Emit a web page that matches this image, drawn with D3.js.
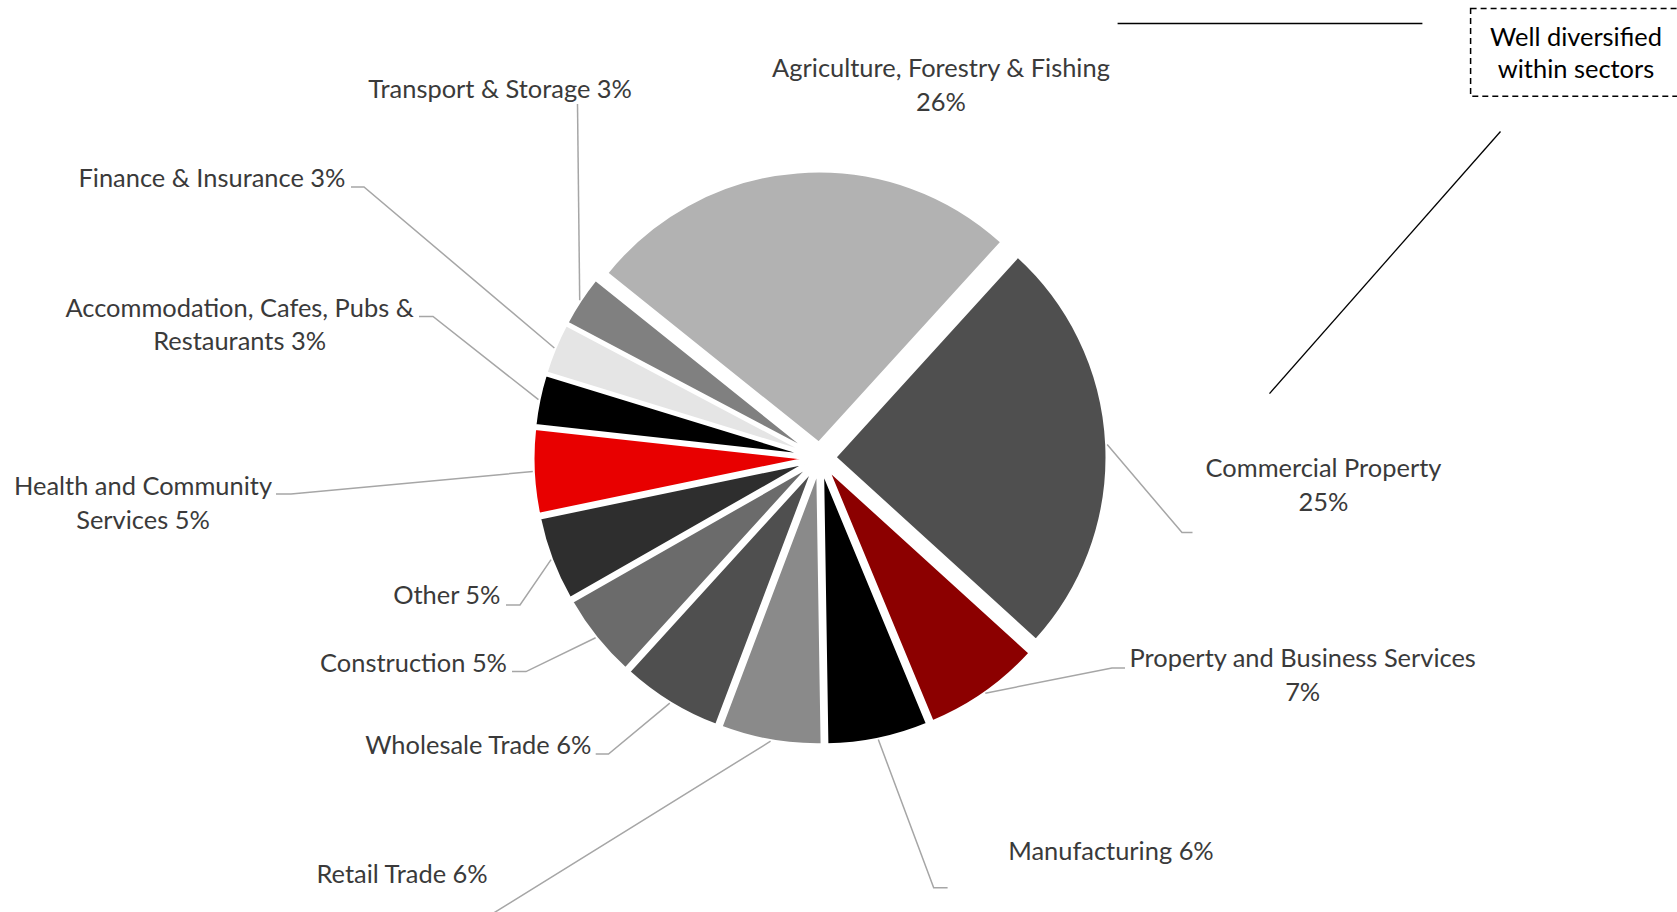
<!DOCTYPE html>
<html>
<head>
<meta charset="utf-8">
<script src="https://cdn.jsdelivr.net/npm/d3@7"></script>
<style>
  html, body { margin: 0; padding: 0; background: #fff; }
  svg { display: block; }
  text { font-family: Lato, "Noto Sans", sans-serif; }
</style>
</head>
<body>
<svg id="chart" width="1677" height="912"></svg>
<script>
// ---- data ----
const categories = [
  "Agriculture, Forestry & Fishing", "Commercial Property", "Property and Business Services",
  "Manufacturing", "Retail Trade", "Wholesale Trade", "Construction", "Other",
  "Health and Community Services", "Accommodation, Cafes, Pubs & Restaurants",
  "Finance & Insurance", "Transport & Storage"
];
const values = [26, 25, 7, 6, 6, 6, 5, 5, 5, 3, 3, 3];
const colors = ["#b2b2b2", "#4f4f4f", "#8c0000", "#000000", "#8a8a8a", "#4f4f4f",
                "#6b6b6b", "#2e2e2e", "#e80000", "#000000", "#e5e5e5", "#808080"];
// label line breaks (text content)
const labelLines = [
  ["Agriculture, Forestry & Fishing", "26%"],
  ["Commercial Property", "25%"],
  ["Property and Business Services", "7%"],
  ["Manufacturing 6%"],
  ["Retail Trade 6%"],
  ["Wholesale Trade 6%"],
  ["Construction 5%"],
  ["Other 5%"],
  ["Health and Community", "Services 5%"],
  ["Accommodation, Cafes, Pubs &", "Restaurants 3%"],
  ["Finance & Insurance 3%"],
  ["Transport & Storage 3%"]
];
const annotationLines = ["Well diversified", "within sectors"];

// ---- layout (positions only) ----
const cx = 820, cy = 458, radius = 271, explode = 15.5;
const startDeg = -51.3;
// label anchor: x, y (center of first line), text-anchor, elbow points of leader (from near-slice to label)
const labelLayout = [
  {x: 941,   y: 67,    a: "middle", elbow: null},
  {x: 1323.5,y: 467,   a: "middle", elbow: [[1182, 532.6], [1192.5, 532.6]]},
  {x: 1302.7,y: 657.3, a: "middle", elbow: [[1112, 668], [1125, 668]]},
  {x: 1111,  y: 849.5, a: "middle", elbow: [[933.7, 887.7], [947.6, 887.7]]},
  {x: 487.7, y: 873.3, a: "end",    elbow: [[492, 914], [479, 914]]},
  {x: 591.4, y: 744,   a: "end",    elbow: [[608.5, 754], [595.7, 754]]},
  {x: 507,   y: 661.5, a: "end",    elbow: [[526, 671.6], [512, 671.6]]},
  {x: 500.5, y: 594.2, a: "end",    elbow: [[520, 605], [506, 605]]},
  {x: 143,   y: 485,   a: "middle", elbow: [[291, 494], [276, 494]]},
  {x: 239.6, y: 306.5, a: "middle", elbow: [[433, 316.5], [419, 316.5]]},
  {x: 345.5, y: 177,   a: "end",    elbow: [[364, 187], [351, 187]]},
  {x: 632,   y: 87.5,  a: "end",    elbow: [[577.5, 104]]}
];
const lineGap = 33.5;
const textColor = "#3a3a3a";
const leaderColor = "#a6a6a6";

const svg = d3.select("#chart");

// ---- pie ----
const toRad = d => d * Math.PI / 180;
const pie = d3.pie().sort(null).value(d => d)
  .startAngle(toRad(startDeg)).endAngle(toRad(startDeg) + 2 * Math.PI);
const arcs = pie(values);
const arc = d3.arc().innerRadius(0).outerRadius(radius);
const dir = a => [Math.sin(a), -Math.cos(a)];

const g = svg.append("g").attr("transform", `translate(${cx},${cy})`);
g.selectAll("path.slice").data(arcs).join("path")
  .attr("class", "slice")
  .attr("d", arc)
  .attr("fill", (d, i) => colors[i])
  .attr("stroke", "#fff")
  .attr("stroke-width", 2)
  .attr("stroke-linejoin", "round")
  .attr("transform", d => {
    const m = (d.startAngle + d.endAngle) / 2;
    const [dx, dy] = dir(m);
    return `translate(${dx * explode},${dy * explode})`;
  });

// ---- leader lines ----
const line = d3.line();
arcs.forEach((d, i) => {
  const L = labelLayout[i];
  if (!L.elbow) return;
  const m = (d.startAngle + d.endAngle) / 2;
  const [dx, dy] = dir(m);
  const rr = radius + explode + 1;
  const p0 = [cx + dx * rr, cy + dy * rr];
  svg.append("path")
    .attr("d", line([p0, ...L.elbow]))
    .attr("fill", "none")
    .attr("stroke", leaderColor)
    .attr("stroke-width", 1.5);
});

// ---- labels ----
// fit font size so the widest reference label matches its measured width
const probe = svg.append("text").attr("font-size", 24).text(labelLines[2][0]);
const w24 = probe.node().getComputedTextLength();
probe.remove();
const fontSize = 24 * 346.5 / w24;

labelLines.forEach((lines, i) => {
  const L = labelLayout[i];
  const t = svg.append("text")
    .attr("text-anchor", L.a)
    .attr("font-size", fontSize)
    .attr("fill", textColor);
  lines.forEach((s, k) => {
    t.append("tspan")
      .attr("x", L.x)
      .attr("y", L.y + k * lineGap)
      .attr("dominant-baseline", "central")
      .text(s);
  });
});

// ---- annotation (top right) ----
svg.append("line")
  .attr("x1", 1117.6).attr("y1", 23.5).attr("x2", 1422.4).attr("y2", 23.5)
  .attr("stroke", "#000").attr("stroke-width", 1.3);
svg.append("rect")
  .attr("x", 1470.6).attr("y", 8.6).attr("width", 230).attr("height", 87.7)
  .attr("fill", "none").attr("stroke", "#000").attr("stroke-width", 1.5)
  .attr("stroke-dasharray", "6,4");
const at = svg.append("text").attr("text-anchor", "middle")
  .attr("font-size", fontSize).attr("fill", "#000");
annotationLines.forEach((s, k) => {
  at.append("tspan").attr("x", 1576).attr("y", 35.5 + k * 32)
    .attr("dominant-baseline", "central").text(s);
});
svg.append("line")
  .attr("x1", 1500.5).attr("y1", 131.5).attr("x2", 1269.5).attr("y2", 393.6)
  .attr("stroke", "#000").attr("stroke-width", 1.3);
</script>
</body>
</html>
